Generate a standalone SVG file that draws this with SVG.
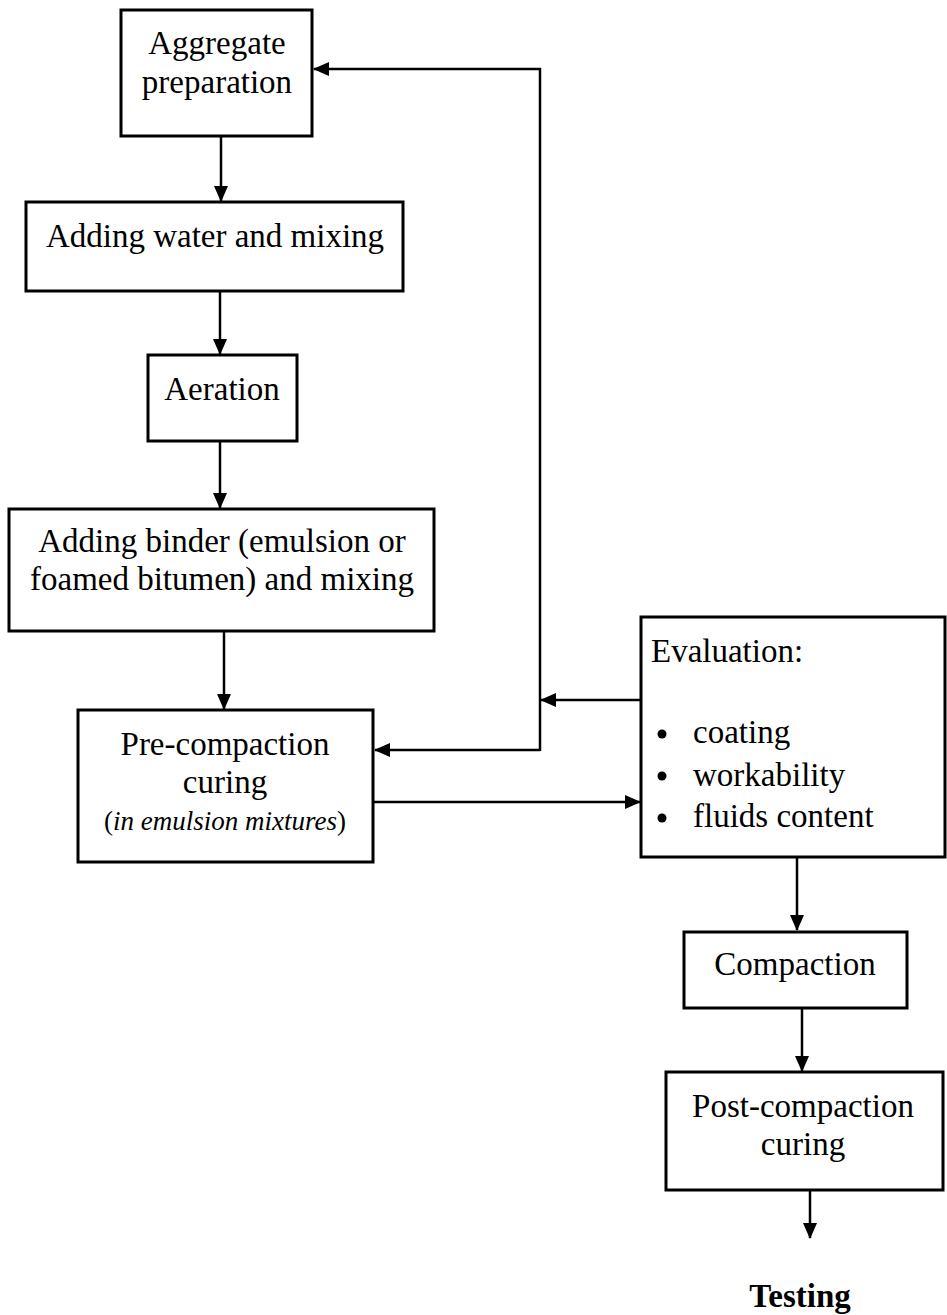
<svg xmlns="http://www.w3.org/2000/svg" width="947" height="1315" viewBox="0 0 947 1315">
<defs>
<style>
.box{fill:#fff;stroke:#000;stroke-width:3}
.t{font-family:"Liberation Serif","Times New Roman",serif;font-size:33px;fill:#000;text-anchor:middle}
.tl{font-family:"Liberation Serif","Times New Roman",serif;font-size:33px;fill:#000}
.it{font-family:"Liberation Serif","Times New Roman",serif;font-size:27px;fill:#000;text-anchor:middle}
.c{fill:none;stroke:#000;stroke-width:2.5}
</style>
<marker id="ah" markerUnits="userSpaceOnUse" markerWidth="16" markerHeight="16" viewBox="0 0 16 16" refX="15" refY="8" orient="auto">
<path d="M0,1 L16,8 L0,15 Z" fill="#000"/>
</marker>
</defs>
<rect width="947" height="1315" fill="#fff"/>
<g id="connectors">
<line class="c" x1="221" y1="136" x2="221" y2="201" marker-end="url(#ah)"/>
<line class="c" x1="220" y1="291" x2="220" y2="354" marker-end="url(#ah)"/>
<line class="c" x1="220" y1="441" x2="220" y2="508" marker-end="url(#ah)"/>
<line class="c" x1="224" y1="631" x2="224" y2="709" marker-end="url(#ah)"/>
<line class="c" x1="641" y1="700" x2="541" y2="700" marker-end="url(#ah)"/>
<polyline class="c" points="540,751 540,69 314,69" marker-end="url(#ah)"/>
<polyline class="c" points="540,750 375,750" marker-end="url(#ah)"/>
<line class="c" x1="374" y1="802" x2="640" y2="802" marker-end="url(#ah)"/>
<line class="c" x1="797" y1="858" x2="797" y2="930" marker-end="url(#ah)"/>
<line class="c" x1="802" y1="1008" x2="802" y2="1071" marker-end="url(#ah)"/>
<line class="c" x1="810" y1="1191" x2="810" y2="1238" marker-end="url(#ah)"/>
</g>
<g id="aggregate">
<rect class="box" x="121" y="10" width="191" height="126"/>
<text class="t" x="217" y="54">Aggregate</text>
<text class="t" x="217" y="93">preparation</text>
</g>
<g id="water">
<rect class="box" x="26" y="202" width="377" height="89"/>
<text class="t" x="215" y="247">Adding water and mixing</text>
</g>
<g id="aeration">
<rect class="box" x="148" y="355" width="149" height="86"/>
<text class="t" x="222" y="400">Aeration</text>
</g>
<g id="binder">
<rect class="box" x="9" y="509" width="425" height="122"/>
<text class="t" x="222" y="552">Adding binder (emulsion or</text>
<text class="t" x="222" y="590">foamed bitumen) and mixing</text>
</g>
<g id="precuring">
<rect class="box" x="78" y="710" width="295" height="152"/>
<text class="t" x="225" y="755">Pre-compaction</text>
<text class="t" x="225" y="793">curing</text>
<text class="it" x="225" y="830">(<tspan font-style="italic">in emulsion mixtures</tspan>)</text>
</g>
<g id="evaluation">
<rect class="box" x="641" y="617" width="304" height="240"/>
<text class="tl" x="651" y="662">Evaluation:</text>
<circle cx="662" cy="734" r="4.5" fill="#000"/>
<circle cx="662" cy="776" r="4.5" fill="#000"/>
<circle cx="662" cy="818" r="4.5" fill="#000"/>
<text class="tl" x="693" y="743">coating</text>
<text class="tl" x="693" y="786">workability</text>
<text class="tl" x="693" y="827">fluids content</text>
</g>
<g id="compaction">
<rect class="box" x="684" y="932" width="223" height="76"/>
<text class="t" x="795" y="975">Compaction</text>
</g>
<g id="postcuring">
<rect class="box" x="666" y="1072" width="277" height="118"/>
<text class="t" x="803" y="1117">Post-compaction</text>
<text class="t" x="803" y="1155">curing</text>
</g>
<g id="testing">
<text class="t" x="800" y="1307" font-weight="bold">Testing</text>
</g>
</svg>
